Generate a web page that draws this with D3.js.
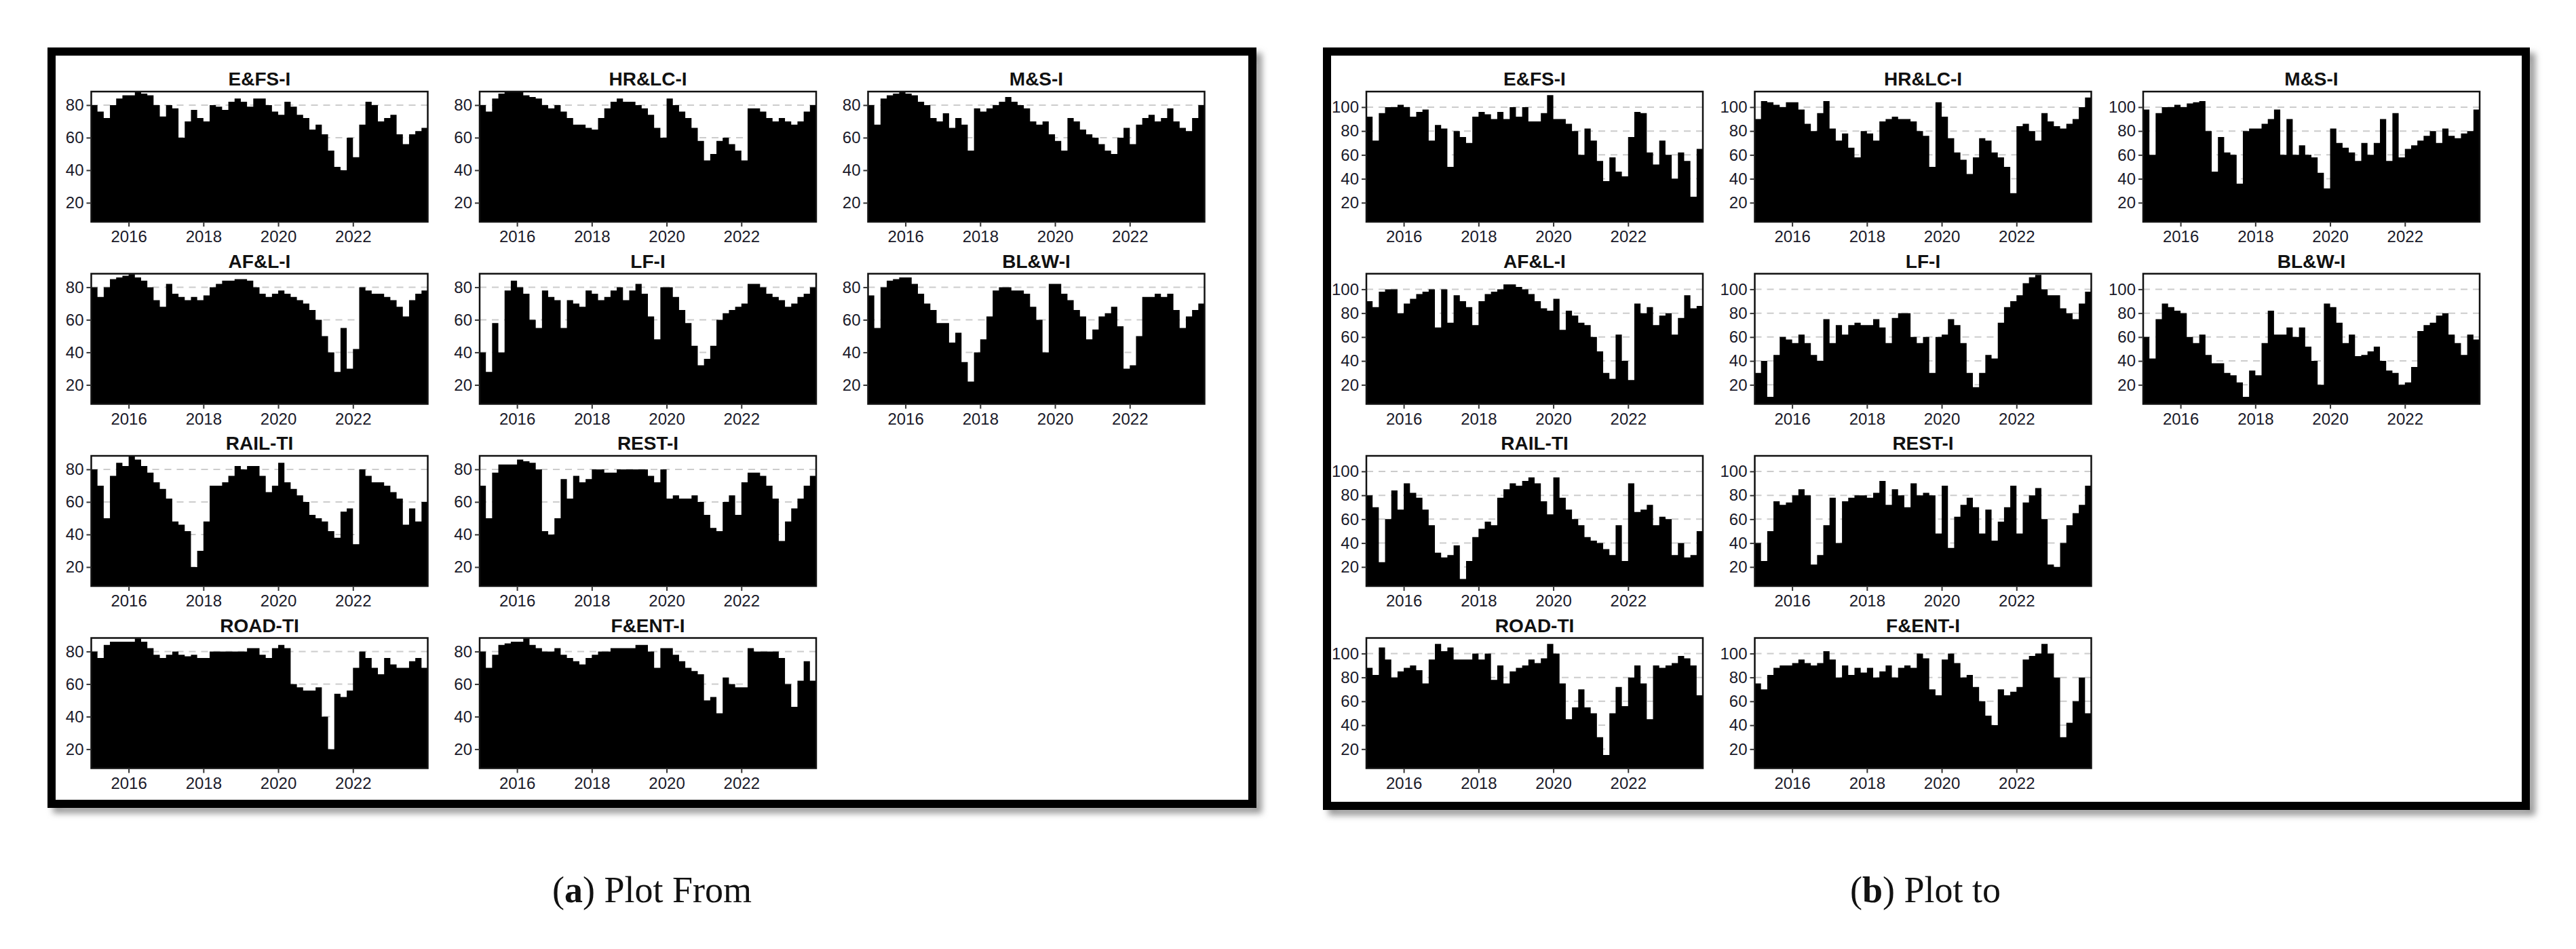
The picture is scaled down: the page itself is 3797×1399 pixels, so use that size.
<!DOCTYPE html>
<html><head><meta charset="utf-8">
<script src="https://cdn.jsdelivr.net/npm/d3@7/dist/d3.min.js"></script>
<style>body{margin:0;background:#fff}</style></head>
<body><svg id="c" width="3797" height="1399"></svg>
<script>
const titles = ["E&FS-I","HR&LC-I","M&S-I","AF&L-I","LF-I","BL&W-I","RAIL-TI","REST-I","ROAD-TI","F&ENT-I"];
const xTicks = [2016,2018,2020,2022];
const yTicksFrom = [20,40,60,80];
const yTicksTo = [20,40,60,80,100];
// bimonthly values 2015.0 .. 2023.83
const fromData = [
[80,76,72,80,84,86, 86,88,87,86,80,73, 80,78,60,70,77,72, 70,80,79,77,82,84, 82,79,84,84,80,76, 74,82,79,74,72,65, 68,62,52,42,40,60, 48,68,82,80,70,72, 74,62,56,62,64,66],
[80,76,84,87,88,88, 88,86,85,84,80,78, 80,76,72,68,68,66, 65,72,78,82,84,82, 82,80,78,74,66,60, 84,80,76,72,66,58, 46,50,58,60,56,52, 46,78,78,76,72,70, 72,70,68,70,76,80],
[80,68,84,86,87,88, 87,86,82,80,72,70, 75,66,72,68,52,78, 76,78,80,82,85,82, 80,78,70,68,70,62, 58,52,72,70,65,62, 60,56,52,50,60,66, 56,68,72,74,70,72, 78,70,66,64,72,80],
[80,74,80,85,86,87, 88,86,84,80,72,68, 82,76,74,72,74,72, 75,80,82,84,84,85, 85,84,80,76,74,76, 78,76,74,72,70,66, 60,50,40,28,55,30, 42,80,78,76,76,74, 72,68,62,72,76,78],
[40,28,58,40,78,84, 80,76,60,55,78,74, 72,55,72,70,68,78, 76,72,74,78,80,72, 78,82,76,62,48,80, 80,74,66,58,44,32, 36,44,60,64,66,68, 70,82,82,80,76,74, 72,68,70,74,76,80],
[75,55,80,84,85,86, 86,82,76,70,66,58, 58,46,52,34,22,40, 48,62,78,80,80,78, 78,76,68,60,40,82, 82,76,72,66,62,48, 54,62,64,68,56,30, 32,50,74,74,76,74, 76,66,55,62,66,70],
[80,70,50,76,84,82, 88,86,82,78,72,68, 62,48,46,42,20,30, 48,70,70,72,76,82, 80,82,82,76,66,70, 84,72,68,64,60,52, 50,48,42,38,54,56, 34,80,76,72,72,70, 66,62,46,56,48,60],
[70,50,78,83,83,83, 86,85,84,80,42,40, 50,74,62,76,72,74, 80,80,78,78,80,80, 80,80,80,76,72,80, 62,64,62,62,64,60, 52,44,42,60,64,52, 72,78,78,76,70,62, 36,48,56,62,70,76],
[80,76,84,86,86,86, 86,88,86,82,78,76, 78,80,78,77,78,76, 76,80,80,80,80,80, 80,82,82,78,76,82, 84,82,60,58,56,56, 58,40,20,54,52,56, 70,80,76,70,66,76, 72,70,70,74,76,70],
[80,70,78,84,85,86, 86,88,84,82,80,80, 82,78,76,74,72,76, 78,80,80,82,82,82, 82,84,84,80,70,82, 82,78,74,70,68,66, 50,52,42,64,60,58, 58,82,80,80,80,80, 76,60,46,62,74,62]
];
const toData = [
[92,72,95,100,100,102, 100,92,96,98,72,85, 82,50,80,75,70,92, 96,94,90,96,90,100, 92,100,88,88,95,110, 90,90,86,80,60,82, 72,55,38,58,46,42, 75,96,95,62,52,72, 60,40,62,55,25,65],
[90,105,104,102,100,104, 104,98,86,80,95,105, 82,72,78,66,58,80, 78,72,88,90,92,90, 90,88,80,76,50,104, 92,74,62,56,44,58, 74,72,62,58,50,28, 84,86,80,72,95,88, 84,82,86,90,100,108],
[98,60,95,100,100,102, 100,103,104,105,80,46, 75,62,60,36,80,82, 82,86,90,98,60,90, 60,68,60,58,45,32, 82,70,66,62,55,70, 60,70,90,55,95,58, 65,68,72,76,80,70, 82,76,74,78,80,98],
[90,85,98,100,100,80, 88,92,96,98,100,68, 100,72,95,90,85,70, 90,96,98,100,104,104, 102,100,96,90,84,82, 92,66,82,78,72,70, 60,48,30,25,62,40, 24,88,80,85,70,78, 80,62,76,95,84,86],
[30,40,10,45,60,58, 55,62,55,45,40,75, 55,70,62,70,72,70, 70,75,68,55,76,80, 80,60,55,60,30,60, 62,75,70,55,30,18, 30,45,42,72,85,90, 95,105,110,112,100,95, 95,84,80,75,88,98],
[60,42,75,88,85,82, 80,60,55,62,45,38, 38,30,28,22,10,32, 28,55,82,62,62,68, 60,68,52,40,20,88, 85,72,55,62,44,45, 48,52,40,32,30,20, 22,35,65,70,72,78, 80,62,55,45,62,58],
[80,70,24,60,84,68, 90,82,78,68,55,32, 28,30,38,10,25,45, 52,58,55,78,85,90, 88,92,95,90,75,64, 95,78,68,60,55,45, 42,40,35,30,55,25, 90,66,68,72,55,62, 60,30,40,28,30,50],
[40,25,50,75,72,74, 80,85,80,22,30,55, 78,40,75,78,80,80, 78,82,92,72,85,80, 70,90,80,82,80,48, 88,36,62,72,78,70, 48,68,42,58,70,88, 48,74,80,86,60,22, 20,40,55,65,72,88],
[88,82,105,95,80,85, 88,90,86,75,95,108, 102,105,95,95,95,100, 95,100,78,90,75,85, 88,90,95,92,96,108, 100,75,45,55,70,55, 50,30,15,50,72,56, 80,90,75,45,90,88, 90,92,98,96,90,65],
[75,70,82,88,90,90, 92,95,92,90,92,102, 95,80,90,82,88,84, 88,80,85,90,80,88, 90,88,100,96,70,65, 95,100,92,80,82,72, 60,48,40,70,65,68, 72,95,98,100,108,100, 80,30,42,60,80,50]
];
const captions = [["a"," Plot From"],["b"," Plot to"]];

const svg = d3.select("#c");
const defs = svg.append("defs");
defs.append("filter").attr("id","sh").append("feGaussianBlur").attr("stdDeviation",5);

const figs = [
  {ox:1956, data:fromData, ydom:[8.3,88.3], yt:yTicksFrom, px:134.5, frameX:76, frameW:1770, frameH:1109, cap:961},
  {ox:1956, data:toData, ydom:[4,113], yt:yTicksTo, px:2014, frameX:1956, frameW:1767, frameH:1112, cap:2838}
];
const W=496, H=192, PY=135, CSTEP=572.5, RSTEP=268.5;
const positions=[[0,0],[1,0],[2,0],[0,1],[1,1],[2,1],[0,2],[1,2],[0,3],[1,3]];
const font="'Liberation Sans Narrow','Arial Narrow','Liberation Sans',sans-serif";

figs.forEach((f,fi)=>{
  svg.append("rect").attr("x",f.frameX+8).attr("y",76+8).attr("width",f.frameW).attr("height",f.frameH)
    .attr("fill","none").attr("stroke","#999").attr("stroke-width",12).attr("filter","url(#sh)");
  svg.append("rect").attr("x",f.frameX).attr("y",76).attr("width",f.frameW).attr("height",f.frameH)
    .attr("fill","#fff").attr("stroke","#000").attr("stroke-width",12);
  f.data.forEach((vals,k)=>{
    const [c,r]=positions[k];
    const x0=f.px+c*CSTEP, y0=PY+r*RSTEP;
    const g=svg.append("g").attr("transform",`translate(${x0},${y0})`);
    const x=d3.scaleLinear().domain([2015,2024]).range([0,W]);
    const y=d3.scaleLinear().domain(f.ydom).range([H,0]);
    const pts=vals.map((v,i)=>({t:2015+i/6,v}));
    pts.push({t:2024,v:vals[vals.length-1]});
    g.selectAll("line.grid").data(f.yt).join("line").attr("class","grid")
      .attr("x1",0).attr("x2",W).attr("y1",d=>y(d)).attr("y2",d=>y(d))
      .attr("stroke","#ccc").attr("stroke-width",2).attr("stroke-dasharray","10,8");
    const area=d3.area().x(d=>x(d.t)).y0(H).y1(d=>y(d.v)).curve(d3.curveStepAfter);
    g.append("path").datum(pts).attr("d",area).attr("fill","#000");
    g.append("rect").attr("width",W).attr("height",H).attr("fill","none").attr("stroke","#111").attr("stroke-width",2.5);
    const ya=g.append("g").call(d3.axisLeft(y).tickValues(f.yt).tickSize(7).tickPadding(4));
    const xa=g.append("g").attr("transform",`translate(0,${H})`).call(d3.axisBottom(x).tickValues(xTicks).tickFormat(d3.format("d")).tickSize(7).tickPadding(6));
    [ya,xa].forEach(a=>{a.select(".domain").remove();a.selectAll("line").attr("stroke","#333").attr("stroke-width",2);
      a.selectAll("text").attr("font-family",font).attr("font-size",24).attr("fill","#1a1a2a");});
    g.append("text").attr("x",W/2).attr("y",-9).attr("text-anchor","middle").attr("font-family",font)
      .attr("font-weight","bold").attr("font-size",28).attr("fill","#111").text(titles[k]);
  });
  const t=svg.append("text").attr("x",f.cap).attr("y",1330).attr("text-anchor","middle")
    .attr("font-family","'Liberation Serif','DejaVu Serif',serif").attr("font-size",54).attr("fill","#111");
  t.append("tspan").text("(");
  t.append("tspan").attr("font-weight","bold").text(captions[fi][0]);
  t.append("tspan").text(")"+captions[fi][1]);
});
</script></body></html>
